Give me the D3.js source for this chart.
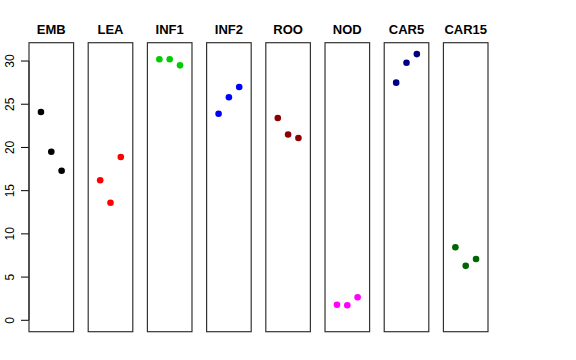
<!DOCTYPE html>
<html><head><meta charset="utf-8">
<script src="https://cdn.jsdelivr.net/npm/d3@7"></script>
<style>body{margin:0;background:#fff}svg{display:block}</style>
</head><body>
<script>
const categories = ["EMB","LEA","INF1","INF2","ROO","NOD","CAR5","CAR15"];
const colors = ["#000000","#FF0000","#00CD00","#0000FF","#8B0000","#FF00FF","#000080","#006400"];
const rep1 = [24.1, 16.2, 30.2, 23.9, 23.4, 1.8, 27.5, 8.45];
const rep2 = [19.5, 13.6, 30.2, 25.8, 21.5, 1.74, 29.8, 6.3];
const rep3 = [17.3, 18.9, 29.5, 27.0, 21.1, 2.66, 30.8, 7.1];
const yTicks = [0,5,10,15,20,25,30];

const W=576,H=360;
const svg=d3.select("body").append("svg").attr("width",W).attr("height",H);
const font="Liberation Sans, Arial, Helvetica, sans-serif";

const xBand=d3.scaleBand().domain(categories).range([29,488]).paddingInner(0.247);
const y=d3.scaleLinear().domain([-1.32,32.12]).range([331.7,42.7]);

// y axis
const ax=svg.append("g");
ax.append("line").attr("x1",29).attr("x2",29).attr("y1",y(0)).attr("y2",y(30)).attr("stroke","#000");
yTicks.forEach(t=>{
  ax.append("line").attr("x1",21).attr("x2",29).attr("y1",y(t)).attr("y2",y(t)).attr("stroke","#000");
  ax.append("text").attr("transform",`translate(14,${y(t)}) rotate(-90)`)
    .attr("text-anchor","middle").attr("font-family",font).attr("font-size",12).text(t);
});

categories.forEach((c,i)=>{
  const x0=xBand(c), bw=xBand.bandwidth();
  const xs=d3.scaleLinear().domain([-0.16,4.16]).range([x0,x0+bw]);
  const g=svg.append("g");
  g.append("rect").attr("x",x0).attr("y",y.range()[1]).attr("width",bw)
    .attr("height",y.range()[0]-y.range()[1]).attr("fill","none").attr("stroke","#333").attr("stroke-width",1.2);
  g.append("text").attr("x",x0+bw/2).attr("y",34).attr("text-anchor","middle")
    .attr("font-family",font).attr("font-weight","bold").attr("font-size",13).text(c);
  [rep1[i],rep2[i],rep3[i]].forEach((v,j)=>{
    g.append("circle").attr("cx",xs(j+1)).attr("cy",y(v)).attr("r",3.3).attr("fill",colors[i]);
  });
});
</script>
</body></html>
